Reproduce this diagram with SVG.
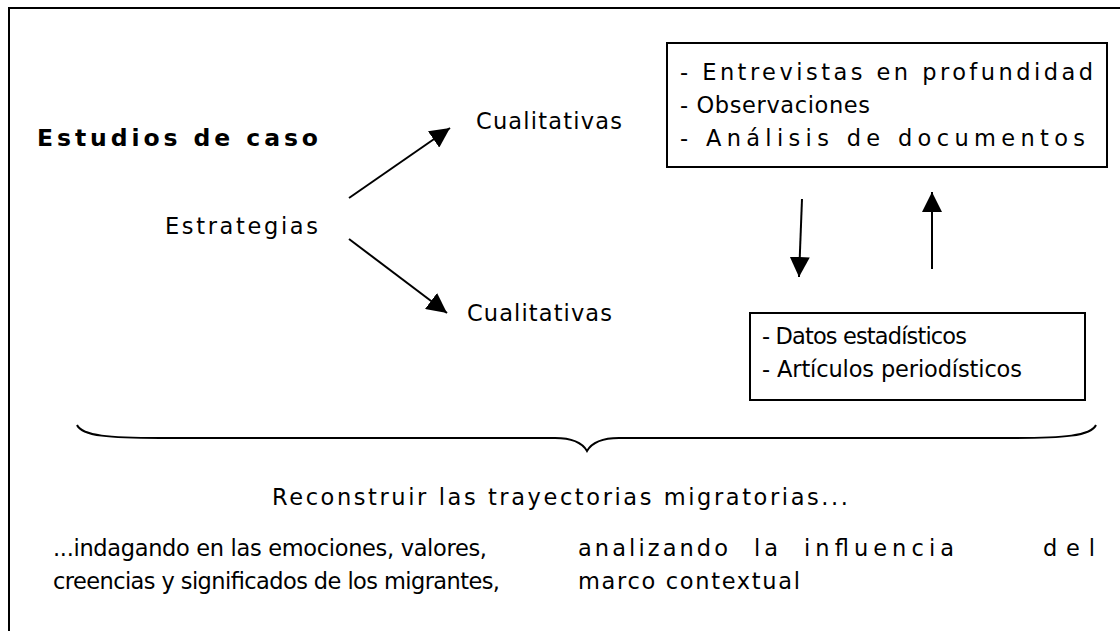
<svg xmlns="http://www.w3.org/2000/svg" width="1120" height="631" viewBox="0 0 1120 631">
<defs>
<style>
.t{font-family:"DejaVu Sans","Liberation Sans",Arial,sans-serif;font-size:22.5px;fill:#000}
.b{font-family:"DejaVu Sans","Liberation Sans",Arial,sans-serif;font-size:23.5px;font-weight:bold;fill:#000}
.box{fill:#fff;stroke:#000;stroke-width:2}
.ln{stroke:#000;stroke-width:2;fill:none}
</style>
<marker id="ah" viewBox="0 0 20 20" refX="20" refY="10" markerWidth="20" markerHeight="20" markerUnits="userSpaceOnUse" orient="auto">
<path d="M0,0 L20,10 L0,20 Z" fill="#000"/>
</marker>
</defs>
<rect x="0" y="0" width="1120" height="631" fill="#fff"/>
<path class="ln" d="M9,640 L9,8 L1125,8"/>
<g id="estudios"><text class="b" x="37" y="146" textLength="281" lengthAdjust="spacing">Estudios de caso</text></g>
<g id="estrategias"><text class="t" x="165" y="234" textLength="153" lengthAdjust="spacing">Estrategias</text></g>
<g id="cual1"><text class="t" x="476" y="129" textLength="146" lengthAdjust="spacing">Cualitativas</text></g>
<g id="cual2"><text class="t" x="467" y="321" textLength="145" lengthAdjust="spacing">Cualitativas</text></g>
<g id="box1">
<rect class="box" x="667" y="43" width="440" height="124"/>
<text class="t" x="680" y="80" textLength="413" lengthAdjust="spacing">- Entrevistas en profundidad</text>
<text class="t" x="680" y="113" textLength="190" lengthAdjust="spacing">- Observaciones</text>
<text class="t" x="680" y="146" textLength="405" lengthAdjust="spacing">- Análisis de documentos</text>
</g>
<g id="box2">
<rect class="box" x="750" y="313" width="335" height="87"/>
<text class="t" x="762" y="344" textLength="205" lengthAdjust="spacing">- Datos estadísticos</text>
<text class="t" x="762" y="377" textLength="260" lengthAdjust="spacing">- Artículos periodísticos</text>
</g>
<g id="reconstruir"><text class="t" x="272" y="505" textLength="576" lengthAdjust="spacing">Reconstruir las trayectorias migratorias...</text></g>
<g id="indagando">
<text class="t" x="53" y="556" textLength="434" lengthAdjust="spacing">...indagando en las emociones, valores,</text>
<text class="t" x="53" y="589" textLength="447" lengthAdjust="spacing">creencias y significados de los migrantes,</text>
</g>
<g id="analizando">
<text class="t" x="578" y="556" textLength="150" lengthAdjust="spacing">analizando</text>
<text class="t" x="754" y="556" textLength="24" lengthAdjust="spacing">la</text>
<text class="t" x="804" y="556" textLength="150" lengthAdjust="spacing">influencia</text>
<text class="t" x="1043" y="556" textLength="52" lengthAdjust="spacing">del</text>
<text class="t" x="578" y="589" textLength="222" lengthAdjust="spacing">marco contextual</text>
</g>
<g id="connectors">
<line class="ln" x1="349" y1="198" x2="450" y2="128" marker-end="url(#ah)"/>
<line class="ln" x1="349" y1="239" x2="447" y2="313" marker-end="url(#ah)"/>
<line class="ln" x1="802" y1="199" x2="799" y2="277" marker-end="url(#ah)"/>
<line class="ln" x1="932" y1="269" x2="932" y2="192" marker-end="url(#ah)"/>
<path class="ln" d="M77,425 C82,436 110,438 160,438 L555,438 C575,438 583,444 587,451 C591,444 599,438 619,438 L1013,438 C1063,438 1091,436 1096,425"/>
</g>
</svg>
